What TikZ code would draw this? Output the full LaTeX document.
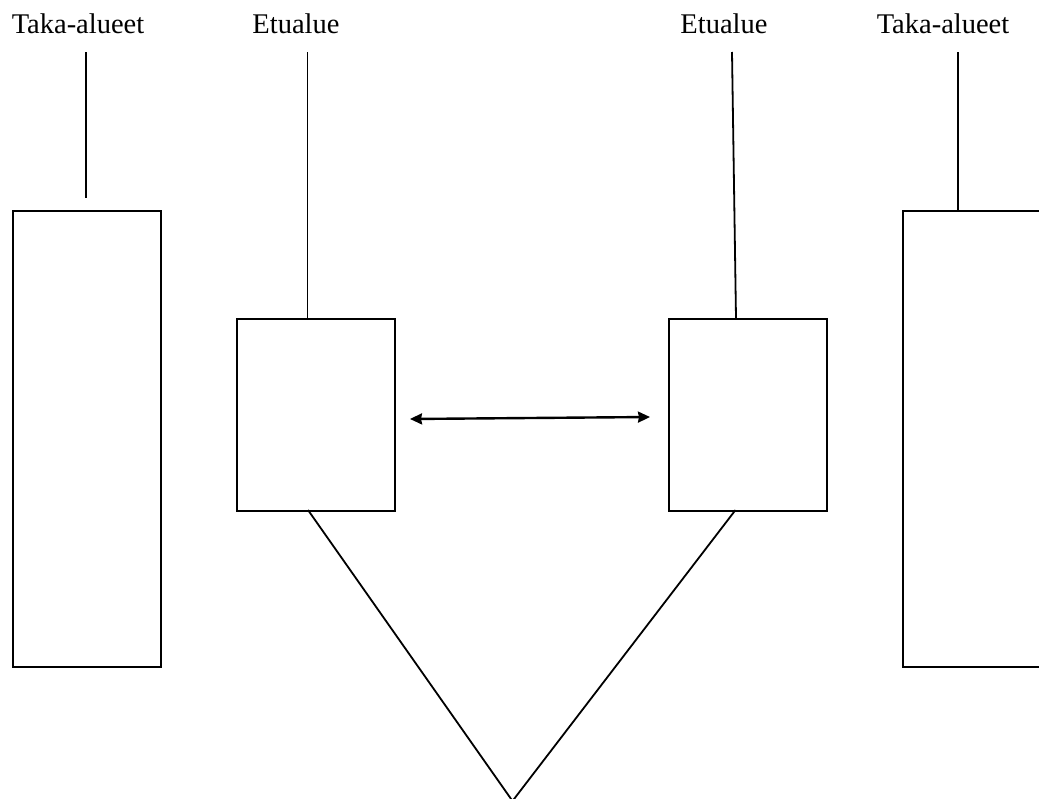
\documentclass[tikz,border=0pt]{standalone}
\usepackage{fontspec}
\setmainfont{Liberation Serif}
\usetikzlibrary{arrows.meta}
\begin{document}
\begin{tikzpicture}[x=1pt,y=-1pt,
  lbl/.style={anchor=base,inner sep=0pt,font=\fontsize{28.5}{32}\selectfont},
  ln/.style={line width=1.8pt},
  box/.style={draw,line width=2pt,inner sep=0pt,anchor=north west}]
\useasboundingbox (0,0) rectangle (1039,798);
\node[lbl] (t1) at (78,33) {Taka-alueet};
\node[lbl] (e1) at (296,33) {Etualue};
\node[lbl] (e2) at (724,33) {Etualue};
\node[lbl] (t2) at (943,33) {Taka-alueet};
\node[box,minimum width=148pt,minimum height=456pt] (r1) at (12,210) {};
\node[box,minimum width=158pt,minimum height=192pt] (r2) at (236,318) {};
\node[box,minimum width=158pt,minimum height=192pt] (r3) at (668,318) {};
\node[box,minimum width=150pt,minimum height=456pt] (r4) at (902,210) {};
\coordinate (a1) at (86,52);
\coordinate (a1e) at (86,198);
\coordinate (a2) at (307.5,52);
\coordinate (a3) at (732,52);
\coordinate (a4) at (958,52);
\coordinate (apex) at (512.5,801);
\draw[ln] (a1) -- (a1e);
\draw[ln] (a2) -- (a2 |- r2.north);
\draw[ln] (a3) -- (736,318);
\draw[ln] (a4) -- (a4 |- r4.north);
\draw[ln] (308,510) -- (apex) -- (735.5,510);
\draw[line width=2.4pt,{Stealth[length=12pt,width=11pt,inset=1pt]}-{Stealth[length=12pt,width=11pt,inset=1pt]}] (410,419) -- (650,417);
\end{tikzpicture}
\end{document}
